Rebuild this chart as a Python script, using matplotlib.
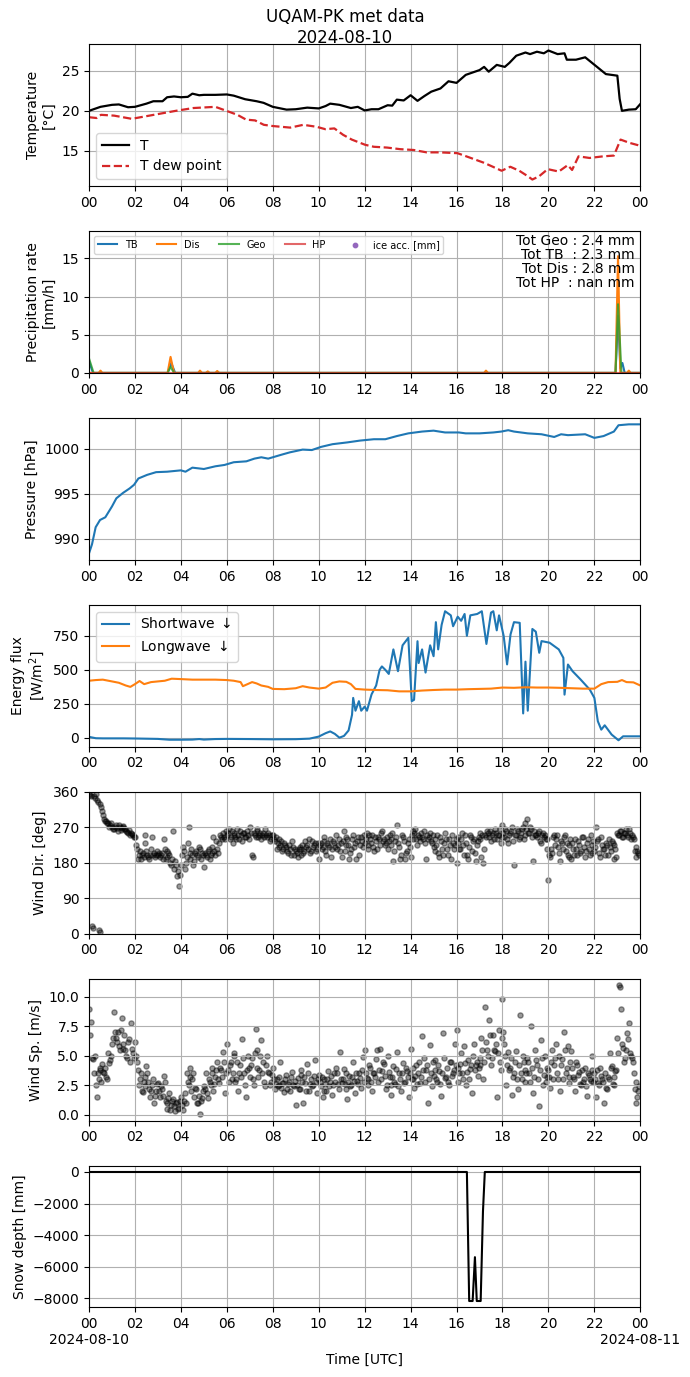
import numpy as np
import pandas as pd
import matplotlib
matplotlib.use("Agg")
import matplotlib.pyplot as plt
import matplotlib.dates as mdates
from matplotlib.ticker import FuncFormatter

DAY = pd.Timestamp("2024-08-10 00:00")

# ---------------- data (hours since 2024-08-10 00:00 UTC) ----------------
T_h = [0, 0.5, 1.0, 1.3, 1.7, 2.0, 2.5, 2.8, 3.2, 3.4, 3.7, 4.0, 4.3, 4.5, 4.8, 5.0, 5.5, 6.0,
       6.3, 6.8, 7.3, 7.6, 8.0, 8.6, 9.0, 9.5, 10.0, 10.3, 10.5, 10.9, 11.4, 11.7, 12.0, 12.3,
       12.6, 13.0, 13.2, 13.4, 13.7, 14.0, 14.3, 14.6, 14.9, 15.3, 15.65, 16.0, 16.4, 16.8,
       17.0, 17.2, 17.4, 17.75, 18.1, 18.3, 18.6, 19.0, 19.2, 19.5, 19.8, 20.0, 20.4, 20.7,
       20.8, 21.2, 21.6, 21.9, 22.2, 22.5, 23.0, 23.1, 23.2, 23.5, 23.8, 24.0]
T_v = [20.0, 20.5, 20.75, 20.8, 20.45, 20.5, 20.9, 21.2, 21.2, 21.7, 21.8, 21.7, 21.75, 22.15,
       21.95, 22.0, 22.0, 22.05, 21.9, 21.45, 21.2, 21.0, 20.5, 20.15, 20.2, 20.4, 20.3, 20.6,
       20.9, 20.75, 20.35, 20.5, 20.05, 20.2, 20.2, 20.7, 20.65, 21.4, 21.3, 21.95, 21.25,
       21.85, 22.4, 22.8, 23.7, 23.5, 24.5, 24.9, 25.1, 25.5, 24.9, 25.75, 25.5, 26.0, 26.9,
       27.3, 27.1, 27.4, 27.2, 27.55, 27.1, 27.2, 26.4, 26.4, 26.7, 26.0, 25.3, 24.6, 24.4,
       21.5, 20.0, 20.15, 20.2, 20.85]

Td_h = [0, 0.33, 0.52, 1.09, 1.86, 2.82, 3.78, 4.54, 5.5, 6.08, 6.46, 6.84, 7.23, 7.61, 7.99,
        8.76, 9.33, 9.91, 10.29, 10.68, 11.06, 11.44, 12.02, 12.4, 12.98, 13.55, 14.13, 14.7,
        15.28, 16.04, 16.62, 17.19, 17.58, 17.96, 18.34, 18.73, 19.11, 19.3, 19.59, 19.97,
        20.45, 20.84, 21.03, 21.31, 21.79, 22.37, 22.85, 23.14, 23.52, 23.9, 24.0]
Td_v = [19.2, 19.1, 19.5, 19.4, 19.0, 19.5, 20.0, 20.35, 20.5, 19.9, 19.5, 18.9, 18.8, 18.25,
        18.1, 17.9, 18.25, 18.0, 17.7, 17.8, 17.0, 16.4, 15.75, 15.5, 15.4, 15.2, 15.1, 14.8,
        14.8, 14.7, 14.1, 13.5, 13.0, 12.5, 13.0, 12.5, 11.8, 11.4, 11.8, 12.7, 12.4, 13.2,
        12.6, 14.3, 14.1, 14.3, 14.4, 16.4, 16.0, 15.7, 15.6]

TB_h = [0.0, 0.17, 3.42, 3.58, 3.75, 22.92, 23.03, 23.13, 23.22, 23.32, 24.0]
TB_v = [1.6, 0.0, 0.0, 1.3, 0.0, 0.0, 7.5, 0.6, 1.3, 0.0, 0.0]
Dis_h = [0.0, 0.17, 0.42, 0.5, 0.58, 3.42, 3.55, 3.7, 4.75, 4.83, 4.92, 5.08, 5.17, 5.25,
         5.5, 5.58, 5.67, 17.2, 17.28, 17.37, 22.92, 23.03, 23.13, 23.42, 23.5, 23.58, 24.0]
Dis_v = [0.0, 0.0, 0.0, 0.3, 0.0, 0.0, 2.1, 0.0, 0.0, 0.3, 0.0, 0.0, 0.2, 0.0, 0.0, 0.25,
         0.0, 0.0, 0.3, 0.0, 0.0, 15.3, 0.0, 0.0, 0.3, 0.0, 0.0]
Geo_h = [0.0, 0.2, 3.42, 3.55, 3.7, 22.92, 23.03, 23.18, 24.0]
Geo_v = [1.9, 0.0, 0.0, 0.8, 0.0, 0.0, 9.0, 0.0, 0.0]
HP_h = [0.0, 24.0]
HP_v = [0.0, 0.0]
tot_labels = ["Tot Geo : 2.4 mm", "Tot TB  : 2.3 mm", "Tot Dis : 2.8 mm", "Tot HP  : nan mm"]

P_h = [0, 0.13, 0.29, 0.48, 0.71, 1.0, 1.19, 1.48, 1.77, 1.96, 2.15, 2.53, 2.92, 3.4, 4.0,
       4.2, 4.5, 5.0, 5.5, 5.9, 6.3, 6.85, 7.2, 7.5, 7.8, 8.4, 8.75, 9.3, 9.7, 10.1, 10.6,
       11.25, 11.8, 12.4, 12.9, 13.4, 13.9, 14.5, 15.0, 15.5, 16.1, 16.4, 17.0, 17.6, 17.95,
       18.25, 18.5, 19.1, 19.7, 20.25, 20.55, 20.85, 21.6, 22.0, 22.4, 22.85, 23.05, 23.5, 24.0]
P_v = [988.4, 989.4, 991.3, 992.1, 992.4, 993.6, 994.5, 995.1, 995.6, 996.0, 996.7, 997.1,
       997.4, 997.45, 997.6, 997.45, 997.9, 997.75, 998.05, 998.2, 998.5, 998.6, 998.9,
       999.05, 998.9, 999.35, 999.6, 999.9, 999.85, 1000.2, 1000.5, 1000.7, 1000.9, 1001.05,
       1001.05, 1001.4, 1001.7, 1001.9, 1002.0, 1001.8, 1001.8, 1001.7, 1001.7, 1001.8,
       1001.9, 1002.05, 1001.9, 1001.7, 1001.6, 1001.3, 1001.6, 1001.5, 1001.6, 1001.2,
       1001.4, 1001.9, 1002.6, 1002.7, 1002.7]

SW_h = [0, 0.3, 0.6, 1.5, 2.0, 3.0, 3.5, 4.0, 4.5, 4.8, 5.0, 5.5, 6.0, 7.0, 8.0, 9.0, 9.6,
        10.0, 10.3, 10.5, 10.7, 10.9, 11.1, 11.3, 11.45, 11.5, 11.6, 11.75, 11.85, 12.0, 12.1,
        12.3, 12.5, 12.65, 12.75, 12.9, 13.05, 13.25, 13.45, 13.65, 13.9, 14.05, 14.15, 14.3,
        14.35, 14.5, 14.65, 14.85, 15.0, 15.1, 15.2, 15.35, 15.5, 15.75, 15.85, 16.05, 16.2,
        16.35, 16.45, 16.6, 16.9, 17.1, 17.3, 17.5, 17.6, 17.75, 17.85, 18.05, 18.2, 18.35,
        18.5, 18.75, 18.9, 19.0, 19.1, 19.3, 19.45, 19.6, 19.7, 20.05, 20.45, 20.65, 20.7,
        20.85, 21.05, 21.4, 21.8, 22.0, 22.15, 22.3, 22.45, 22.75, 23.05, 23.25, 24.0]
SW_v = [8, -2, -3, -3, -4, -7, -13, -13, -12, -8, -12, -8, -7, -8, -10, -9, -5, 10, 35, 48,
        30, 2, 15, 55, 170, 294, 200, 270, 200, 230, 200, 320, 385, 500, 525, 500, 470, 650,
        490, 680, 735, 270, 280, 710, 550, 650, 480, 680, 600, 850, 650, 830, 930, 900, 820,
        890, 860, 910, 750, 900, 910, 930, 690, 920, 930, 790, 900, 750, 540, 760, 850, 845,
        180, 560, 200, 800, 780, 625, 711, 699, 650, 588, 318, 539, 490, 429, 355, 294, 123,
        61, 93, 25, -17, 12, 12]

LW_h = [0, 0.3, 0.6, 1.0, 1.3, 1.6, 1.8, 2.0, 2.2, 2.4, 2.7, 3.0, 3.3, 3.6, 4.0, 4.5, 5.0,
        5.5, 6.0, 6.3, 6.6, 6.7, 6.9, 7.1, 7.3, 7.5, 7.8, 8.0, 8.5, 9.0, 9.3, 9.6, 10.0, 10.3,
        10.6, 10.9, 11.2, 11.4, 11.6, 12.0, 12.5, 13.0, 13.5, 14.0, 14.5, 15.0, 15.5, 16.0,
        16.5, 17.0, 17.5, 18.0, 18.5, 19.0, 19.5, 20.0, 20.5, 21.0, 21.5, 22.0, 22.3, 22.6,
        23.0, 23.2, 23.4, 23.7, 24.0]
LW_v = [420, 425, 428, 415, 405, 385, 375, 395, 418, 395, 410, 415, 420, 435, 432, 428, 428,
        428, 425, 420, 410, 380, 395, 410, 400, 385, 375, 360, 358, 365, 380, 370, 362, 370,
        405, 415, 412, 395, 360, 355, 352, 350, 342, 342, 348, 352, 355, 355, 358, 360, 362,
        370, 368, 372, 370, 370, 368, 365, 362, 362, 395, 410, 412, 425, 410, 408, 385]

# wind direction, 5-min samples at :00/:05/... (one row per hour)
WD = [
    355, 350, 15, 345, 340, 8, 330, 310, 290, 285, 280, 275,
    270, 265, 275, 260, 270, 268, 272, 265, 258, 262, 255, 250,
    245, 215, 200, 190, 205, 230, 210, 195, 200, 245, 205, 200,
    200, 195, 205, 240, 190, 210, 200, 175, 260, 185, 145, 120,
    175, 220, 165, 195, 270, 205, 200, 185, 210, 195, 215, 205,
    170, 200, 210, 190, 205, 245, 200, 215, 230, 245, 255, 240,
    250, 265, 245, 230, 255, 240, 250, 260, 235, 255, 245, 250,
    270, 200, 255, 245, 260, 250, 240, 255, 265, 245, 250, 240,
    250, 235, 215, 240, 225, 210, 230, 220, 205, 215, 235, 200,
    210, 195, 220, 215, 205, 235, 225, 240, 210, 220, 230, 215,
    190, 230, 220, 245, 200, 225, 240, 215, 230, 250, 225, 210,
    195, 260, 225, 240, 190, 215, 250, 230, 235, 200, 245, 220,
    230, 255, 215, 240, 250, 210, 235, 245, 225, 260, 240, 230,
    215, 250, 240, 185, 235, 275, 220, 200, 245, 190, 210, 240,
    195, 260, 255, 240, 250, 235, 245, 260, 190, 240, 255, 230,
    220, 210, 250, 195, 235, 200, 255, 215, 240, 190, 230, 225,
    180, 245, 215, 255, 200, 230, 190, 250, 210, 240, 185, 235,
    255, 195, 180, 250, 260, 245, 235, 255, 265, 240, 250, 230,
    275, 245, 260, 230, 255, 270, 175, 250, 260, 245, 265, 240,
    280, 290, 255, 265, 185, 250, 245, 260, 230, 255, 250, 240,
    135, 195, 205, 250, 240, 220, 185, 230, 245, 210, 200, 225,
    190, 215, 240, 200, 225, 210, 245, 195, 230, 215, 250, 205,
    210, 270, 240, 195, 225, 215, 230, 200, 220, 235, 190, 215,
    255, 250, 260, 245, 255, 250, 265, 240, 245, 210, 195, 205,
]
# wind direction, 5-min samples at :02:30/:07:30/...
WD_b = [
    352, 20, 348, 355, 335, 5, 320, 300, 285, 280, 270, 280,
    265, 270, 268, 275, 262, 270, 265, 260, 255, 250, 252, 245,
    225, 190, 210, 200, 195, 250, 200, 190, 215, 200, 195, 210,
    205, 200, 190, 215, 195, 205, 180, 190, 165, 175, 160, 150,
    200, 210, 180, 230, 190, 215, 175, 205, 200, 220, 190, 200,
    205, 195, 215, 200, 220, 210, 235, 205, 250, 240, 245, 260,
    255, 240, 260, 250, 245, 265, 240, 250, 255, 245, 260, 240,
    255, 195, 250, 265, 245, 255, 250, 245, 250, 255, 235, 250,
    240, 245, 230, 220, 235, 215, 225, 210, 225, 200, 220, 215,
    205, 215, 200, 225, 210, 220, 215, 205, 235, 225, 210, 230,
    225, 215, 235, 210, 230, 220, 195, 235, 220, 215, 240, 230,
    235, 210, 245, 225, 205, 240, 220, 190, 245, 225, 235, 250,
    240, 225, 250, 230, 220, 245, 215, 240, 255, 235, 225, 245,
    235, 225, 255, 210, 245, 230, 190, 250, 235, 205, 230, 220,
    250, 240, 265, 225, 245, 255, 240, 230, 250, 245, 235, 250,
    240, 225, 205, 245, 215, 230, 240, 200, 225, 250, 215, 240,
    230, 215, 240, 225, 250, 200, 220, 245, 235, 205, 225, 245,
    240, 250, 215, 245, 255, 260, 250, 240, 255, 250, 265, 245,
    255, 265, 240, 250, 260, 235, 250, 265, 240, 255, 270, 250,
    265, 255, 270, 245, 260, 250, 255, 235, 250, 245, 240, 215,
    200, 215, 245, 225, 250, 205, 235, 215, 250, 230, 195, 240,
    230, 200, 215, 235, 205, 245, 220, 210, 240, 200, 225, 235,
    220, 235, 205, 245, 215, 200, 225, 240, 210, 230, 225, 195,
    250, 260, 245, 255, 265, 245, 255, 250, 240, 220, 210, 200,
]

# wind speed, 5-min samples at :00/:05/... (one row per hour)
WS = [
    9.0, 7.9, 4.7, 5.0, 1.5, 3.0, 3.8, 4.3, 3.5, 3.2, 5.2, 4.6,
    6.0, 8.7, 6.5, 7.0, 5.5, 8.2, 6.0, 5.5, 4.8, 6.4, 7.8, 5.2,
    6.2, 4.5, 2.5, 3.5, 1.9, 3.2, 4.1, 2.8, 1.5, 2.5, 1.0, 2.0,
    2.7, 1.5, 2.2, 3.3, 1.2, 0.5, 1.8, 0.8, 1.3, 0.3, 1.1, 0.6,
    1.5, 0.4, 1.8, 3.5, 2.5, 4.0, 3.0, 1.5, 2.2, 1.0, 0.05, 1.4,
    2.4, 3.5, 1.4, 2.8, 4.0, 2.0, 3.2, 4.5, 2.7, 3.8, 5.3, 1.8,
    6.0, 2.8, 4.5, 3.5, 5.2, 3.0, 2.0, 4.2, 6.4, 3.5, 1.5, 5.0,
    3.2, 4.8, 2.5, 7.3, 5.5, 3.8, 6.3, 4.5, 2.4, 5.0, 3.5, 2.8,
    4.0, 2.2, 3.0, 2.5, 4.5, 2.7, 1.9, 3.4, 2.6, 2.0, 3.6, 2.4,
    0.8, 3.1, 2.2, 3.8, 1.0, 2.7, 4.3, 2.0, 3.0, 2.5, 4.6, 1.8,
    3.4, 2.4, 1.5, 3.0, 2.0, 3.7, 2.8, 1.7, 3.5, 4.0, 2.6, 5.3,
    2.7, 3.9, 2.2, 1.3, 3.3, 2.5, 4.5, 1.8, 2.9, 3.5, 2.3, 4.9,
    5.5, 3.1, 2.5, 4.0, 2.0, 3.5, 4.7, 2.8, 5.6, 3.7, 4.3, 2.2,
    5.0, 3.2, 1.7, 4.1, 2.6, 5.3, 3.5, 2.0, 4.4, 2.8, 3.7, 1.5,
    5.6, 3.0, 2.3, 4.2, 3.5, 2.7, 6.7, 4.8, 3.8, 1.0, 5.9, 2.4,
    3.3, 4.6, 2.8, 3.7, 1.6, 6.9, 3.1, 4.0, 2.5, 4.5, 3.5, 6.0,
    7.2, 2.8, 4.3, 3.5, 5.8, 2.5, 4.6, 3.9, 1.8, 6.0, 4.2, 3.3,
    4.8, 6.5, 3.0, 9.1, 5.5, 8.0, 4.2, 6.8, 5.4, 1.5, 7.2, 3.8,
    9.8, 6.0, 2.5, 5.3, 4.0, 1.7, 3.5, 5.4, 2.2, 8.5, 3.0, 4.5,
    2.8, 4.8, 3.5, 7.5, 1.8, 5.5, 4.2, 0.7, 6.3, 2.5, 5.0, 3.2,
    3.8, 2.3, 5.5, 4.2, 6.0, 3.0, 2.0, 4.7, 7.0, 3.5, 5.8, 2.7,
    5.4, 3.2, 2.0, 4.2, 3.6, 2.5, 2.8, 4.0, 1.6, 3.4, 2.9, 5.0,
    3.5, 1.5, 2.7, 4.0, 3.0, 1.0, 2.3, 3.2, 5.2, 4.1, 2.5, 3.7,
    6.5, 11.0, 9.0, 5.7, 4.8, 6.9, 7.8, 5.0, 4.5, 2.2, 1.0, 2.0,
]
# wind speed, 5-min samples at :02:30/:07:30/...
WS_b = [
    6.8, 4.8, 3.5, 2.5, 3.5, 4.0, 2.8, 3.6, 4.0, 3.0, 4.4, 5.0,
    6.5, 7.0, 6.2, 5.8, 7.2, 5.6, 6.8, 5.0, 6.2, 4.5, 5.6, 4.8,
    5.0, 3.8, 3.0, 2.0, 2.8, 2.4, 3.5, 2.2, 2.0, 3.0, 1.6, 2.6,
    2.0, 2.4, 1.6, 2.8, 1.0, 1.4, 0.4, 1.2, 0.7, 1.0, 0.5, 1.2,
    0.8, 1.2, 1.0, 2.8, 3.2, 2.0, 3.5, 2.3, 1.0, 1.6, 1.2, 2.0,
    2.2, 1.8, 3.0, 2.5, 3.5, 2.6, 3.8, 3.0, 4.0, 3.2, 4.5, 3.5,
    3.8, 4.2, 3.0, 5.0, 2.8, 4.5, 3.5, 3.2, 4.8, 2.5, 3.8, 4.0,
    4.2, 3.0, 5.2, 4.0, 3.2, 5.0, 3.5, 2.8, 4.2, 3.6, 2.5, 3.4,
    3.0, 2.6, 2.4, 3.2, 2.3, 2.7, 3.0, 2.2, 2.8, 3.2, 2.5, 2.9,
    2.5, 2.2, 3.4, 2.8, 3.2, 2.0, 3.5, 2.6, 2.4, 3.3, 2.8, 3.0,
    2.8, 3.2, 2.0, 2.6, 3.0, 2.4, 3.3, 2.5, 2.8, 3.5, 2.2, 3.0,
    3.0, 2.6, 3.5, 2.8, 2.4, 3.2, 2.9, 3.5, 2.6, 3.1, 3.8, 2.8,
    3.5, 3.0, 4.2, 2.8, 3.5, 3.2, 5.5, 3.8, 3.0, 4.5, 3.3, 2.5,
    3.6, 2.5, 3.2, 2.8, 3.9, 2.4, 3.0, 3.5, 2.7, 4.0, 3.2, 3.5,
    3.0, 4.0, 3.3, 2.6, 4.5, 3.2, 3.8, 2.8, 4.2, 3.0, 3.5, 4.5,
    3.8, 3.0, 4.2, 2.6, 3.5, 4.8, 3.2, 2.8, 4.5, 3.3, 3.8, 4.2,
    4.0, 3.5, 5.2, 3.0, 4.4, 3.6, 3.0, 4.2, 5.0, 3.8, 4.5, 4.0,
    4.2, 5.5, 4.5, 6.2, 5.0, 6.8, 4.8, 5.5, 6.0, 5.2, 4.5, 6.5,
    7.0, 5.0, 4.2, 3.8, 4.8, 3.2, 4.5, 3.0, 4.2, 3.5, 5.0, 3.8,
    3.5, 4.5, 2.8, 4.0, 3.2, 4.6, 3.0, 3.8, 4.8, 3.4, 2.8, 4.0,
    3.2, 4.5, 3.0, 4.8, 3.5, 5.0, 4.2, 3.0, 5.5, 4.0, 3.2, 4.5,
    4.0, 3.0, 4.5, 3.4, 2.6, 3.8, 3.0, 2.4, 3.5, 3.0, 3.8, 2.8,
    3.0, 3.8, 2.5, 3.3, 2.8, 3.5, 2.2, 3.0, 4.0, 2.6, 3.2, 3.8,
    5.2, 10.8, 6.0, 4.5, 5.5, 6.4, 5.2, 4.8, 3.5, 2.8, 1.5, 2.4,
]

SD_h = [0.0, 16.45, 16.55, 16.7, 16.8, 16.88, 17.05, 17.15, 17.23, 24.0]
SD_v = [0, 0, -8180, -8180, -5400, -8180, -8180, -2500, 0, 0]


def to_time(hours):
    return DAY + pd.to_timedelta(np.asarray(hours, dtype=float), unit="h")


wind_t = DAY + pd.to_timedelta(np.arange(len(WD)) * 5.0, unit="min")
wind_t_b = DAY + pd.to_timedelta(np.arange(len(WD_b)) * 5.0 + 2.5, unit="min")

# ---------------- figure ----------------
fig, axes = plt.subplots(7, 1, figsize=(6.9, 13.77), dpi=100)
fig.subplots_adjust(left=0.129, right=0.928, top=0.968, bottom=0.0505, hspace=0.317)
fig.suptitle("UQAM-PK met data\n2024-08-10", fontsize=12, y=0.994, va="top")

ax = axes[0]
ax.plot(to_time(T_h), T_v, color="black", lw=1.6, label="T")
ax.plot(to_time(Td_h), Td_v, color="#d62728", lw=1.6, ls="--", label="T dew point")
ax.set_ylabel("Temperature\n[°C]")
ax.legend(loc="lower left", fontsize=10)

ax = axes[1]
ax.plot(to_time(TB_h), TB_v, color="tab:blue", lw=1.5, label="TB")
ax.plot(to_time(Dis_h), Dis_v, color="tab:orange", lw=1.5, label="Dis")
ax.plot(to_time(Geo_h), Geo_v, color="tab:green", lw=1.5, alpha=0.8, label="Geo")
ax.plot(to_time(HP_h), HP_v, color="tab:red", lw=1.5, alpha=0.7, label="HP")
ax.scatter([], [], color="tab:purple", s=10, label="ice acc. [mm]")
ax.set_ylim(0, 18.6)
ax.set_ylabel("Precipitation rate\n[mm/h]")
ax.legend(loc="upper left", ncol=5, fontsize=7)
ax.text(0.99, 0.98, "\n".join(tot_labels), transform=ax.transAxes, ha="right", va="top",
        fontsize=10, multialignment="right", linespacing=1.0)

ax = axes[2]
ax.plot(to_time(P_h), P_v, color="tab:blue", lw=1.5)
ax.set_ylabel("Pressure [hPa]")

ax = axes[3]
ax.plot(to_time(SW_h), SW_v, color="tab:blue", lw=1.5, label="Shortwave $\\downarrow$")
ax.plot(to_time(LW_h), LW_v, color="tab:orange", lw=1.5, label="Longwave $\\downarrow$")
ax.set_ylabel("Energy flux\n[W/m$^2$]")
ax.set_yticks([0, 250, 500, 750])
ax.legend(loc="upper left", fontsize=10)

ax = axes[4]
ax.scatter(wind_t, WD, color="black", s=14, alpha=0.4)
ax.scatter(wind_t_b, WD_b, color="black", s=14, alpha=0.4)
ax.set_ylim(0, 360)
ax.set_yticks([0, 90, 180, 270, 360])
ax.set_ylabel("Wind Dir. [deg]")

ax = axes[5]
ax.scatter(wind_t, WS, color="black", s=14, alpha=0.4)
ax.scatter(wind_t_b, WS_b, color="black", s=14, alpha=0.4)
ax.set_yticks([0, 2.5, 5, 7.5, 10])
ax.set_ylabel("Wind Sp. [m/s]")

ax = axes[6]
ax.plot(to_time(SD_h), SD_v, color="black", lw=1.5)
ax.set_ylabel("Snow depth [mm]")
ax.set_xlabel("Time [UTC]")


def hour_fmt(x, pos):
    return mdates.num2date(x).strftime("%H")


def last_fmt(x, pos):
    d = mdates.num2date(x)
    s = d.strftime("%H")
    if d.hour == 0:
        s += "\n" + d.strftime("%Y-%m-%d")
    return s


for i, ax in enumerate(axes):
    ax.set_xlim(DAY, DAY + pd.Timedelta(hours=24))
    ax.xaxis.set_major_locator(mdates.HourLocator(byhour=range(0, 24, 2)))
    ax.xaxis.set_major_formatter(FuncFormatter(last_fmt if i == 6 else hour_fmt))
    ax.grid(True)

fig.savefig("out.png", dpi=100)
